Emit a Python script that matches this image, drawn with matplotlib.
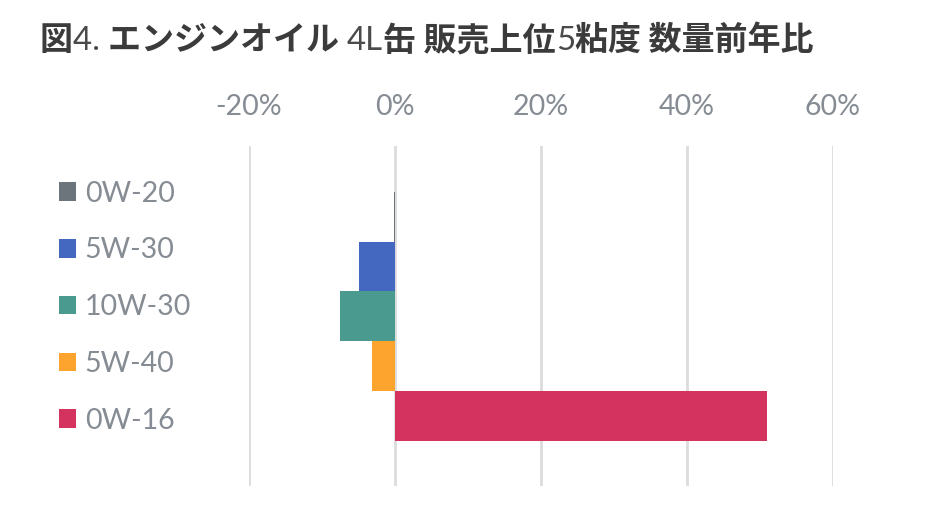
import matplotlib
matplotlib.use("Agg")
import matplotlib.pyplot as plt
from matplotlib.patches import Patch

# data (YoY quantity change, %)
grades = ["0W-20", "5W-30", "10W-30", "5W-40", "0W-16"]
values = [-0.1, -4.9, -7.6, -3.2, 51.0]
colors = ["#6b757b", "#4468c0", "#4a9a8f", "#fda42f", "#d4335f"]
ticks = [-20, 0, 20, 40, 60]

# title pieces: (text, bold CJK?)
title_parts = [("図", True), ("4. ", False), ("エンジンオイル ", True), ("4L", False),
               ("缶 販売上位", True), ("5", False), ("粘度 数量前年比", True)]

W, H = 940, 525
fig = plt.figure(figsize=(W / 100, H / 100), dpi=100)
ax = fig.add_axes([249 / W, 1 - 486 / H, (833 - 249) / W, (486 - 146) / H])

grey = "#868c93"
for i, (v, c) in enumerate(zip(values, colors)):
    ax.barh(i, v, height=1.0, color=c, zorder=3)

ax.set_xlim(-20, 60)
ax.set_ylim(5.41, -1.42)
ax.set_xticks(ticks)
ax.set_xticklabels([f"{t}%" for t in ticks], fontsize=20.5, color=grey,
                   fontfamily="Lato")
ax.xaxis.tick_top()
ax.tick_params(axis="x", length=0, pad=19)
ax.set_yticks([])
ax.grid(axis="x", color="#dcdcdc", linewidth=2, zorder=0)
for s in ax.spines.values():
    s.set_visible(False)

handles = [Patch(facecolor=c, edgecolor="none") for c in colors]
leg = fig.legend(handles, grades, loc="upper left", bbox_to_anchor=(33 / W, 1 - 155 / H),
                 frameon=False, handlelength=0.62, handleheight=0.62, handletextpad=0.3,
                 labelspacing=1.08, prop={"family": "Lato", "size": 20.5})
for t in leg.get_texts():
    t.set_color(grey)

# title drawn piece by piece so the digits can be thin like the original
fig.canvas.draw()
renderer = fig.canvas.get_renderer()
x = 40 / W
y = 1 - 50 / H
for txt, bold in title_parts:
    if bold:
        t = fig.text(x, y, txt, fontsize=23.8, fontweight="bold", color="#3b3b3b",
                     fontfamily=["Noto Sans CJK JP", "DejaVu Sans"], va="baseline")
    else:
        t = fig.text(x, y, txt, fontsize=23.8, color="#4a4a4a",
                     fontfamily=["Lato", "DejaVu Sans"], va="baseline")
    bb = t.get_window_extent(renderer)
    x += bb.width / W

fig.savefig("out.png", dpi=100)
